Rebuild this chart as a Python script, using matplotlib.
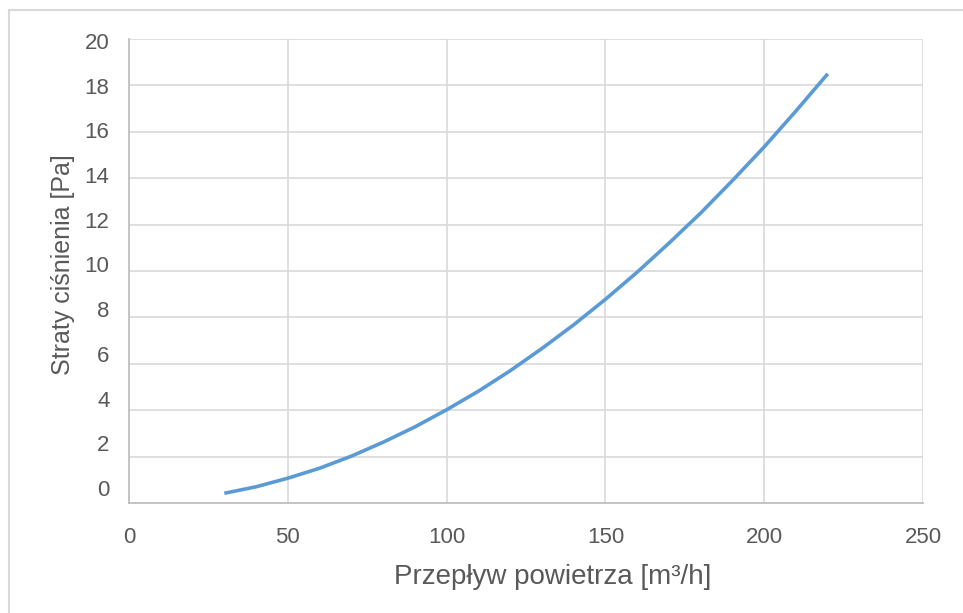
import matplotlib
matplotlib.use('Agg')
import matplotlib.pyplot as plt
from matplotlib.patches import Rectangle

plt.rcParams['font.family'] = ['Liberation Sans', 'DejaVu Sans']

# airflow [m3/h] and pressure loss [Pa]
flow = [30, 40, 50, 60, 70, 80, 90, 100, 110, 120, 130, 140, 150, 160, 170, 180, 190, 200, 210, 220]
loss = [0.42, 0.70, 1.07, 1.50, 2.02, 2.62, 3.28, 4.02, 4.82, 5.70, 6.66, 7.68, 8.78, 9.95, 11.2, 12.5, 13.9, 15.35, 16.9, 18.5]

x_ticks = [0, 50, 100, 150, 200, 250]
y_ticks = [0, 2, 4, 6, 8, 10, 12, 14, 16, 18, 20]

txt = '#595959'
grid = '#D9D9D9'

fig = plt.figure(figsize=(9.63, 6.13), dpi=100)
ax = fig.add_axes([0.134, 0.1794, 0.8245, 0.757])

ax.plot(flow, loss, color='#5B9BD5', lw=2.6, solid_capstyle='butt')

ax.set_xlim(0, 250)
ax.set_ylim(0, 20)
ax.set_xticks(x_ticks)
ax.set_yticks(y_ticks)
ax.grid(True, color=grid, lw=1.2)
ax.set_axisbelow(True)
ax.tick_params(length=0, labelsize=16, colors=txt)
ax.tick_params(axis='x', pad=17)
ax.tick_params(axis='y', labelleft=False)

for s in ['top', 'right']:
    ax.spines[s].set_visible(False)
for s in ['left', 'bottom']:
    ax.spines[s].set_color('#BFBFBF')
    ax.spines[s].set_linewidth(1.3)

# y labels in the original sit slightly off the gridlines
sec = ax.secondary_yaxis('left', functions=(lambda p: (p - 0.6466) / 0.9634,
                                            lambda v: v * 0.9634 + 0.6466))
sec.set_yticks(y_ticks)
sec.tick_params(length=0, labelsize=16, colors=txt, pad=14)
sec.spines['left'].set_visible(False)

ax.set_xlabel('Przepływ powietrza [m³/h]', fontsize=20, color=txt)
ax.xaxis.set_label_coords(0.533, -0.131)
ax.set_ylabel('Straty ciśnienia [Pa]', fontsize=18, color=txt)
ax.yaxis.set_label_coords(-0.068, 0.513)

# thin frame round the chart area
fig.patches.append(Rectangle((9 / 963, -0.1), 1.2, 1 - 10 / 613 + 0.1,
                             transform=fig.transFigure, fill=False,
                             edgecolor='#D9D9D9', lw=1.5))

plt.savefig('out.png', dpi=100)
